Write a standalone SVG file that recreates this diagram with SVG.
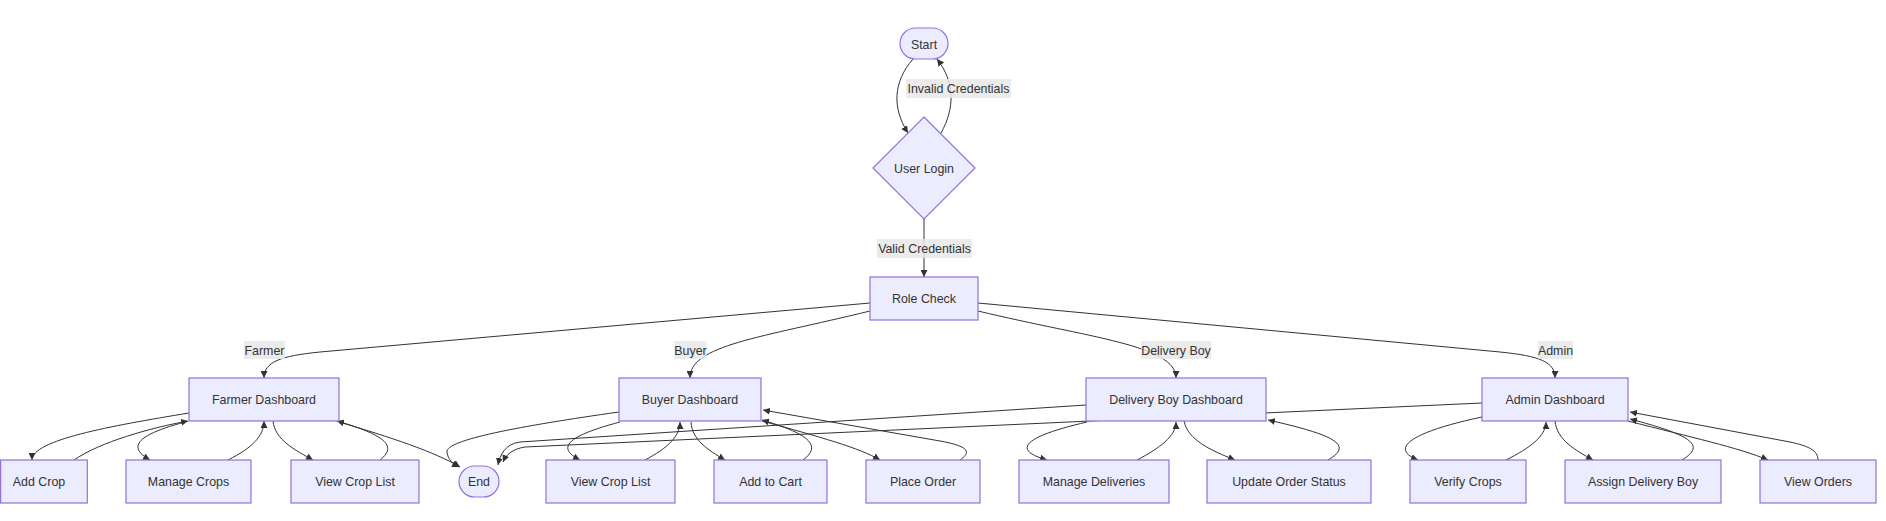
<svg xmlns="http://www.w3.org/2000/svg" width="1886" height="521" viewBox="0 0 1886 521">
<style>
.node rect,.node polygon{fill:#ECECFF;stroke:#9370DB;stroke-width:1.2}
text{font-family:"Liberation Sans",Arial,sans-serif;font-size:12.4px;fill:#333;text-anchor:middle}
.edge path{fill:none;stroke:#333;stroke-width:1}
.lbl rect{fill:#e8e8e8;opacity:0.85}
</style>
<defs>
<marker id="arr" viewBox="0 0 10 10" refX="10" refY="5" markerWidth="7" markerHeight="7" markerUnits="userSpaceOnUse" orient="auto">
<path d="M0,0 L10,5 L0,10 z" fill="#333"/>
</marker>
</defs>
<rect width="1886" height="521" fill="#fff"/>
<g id="edges" class="edge">
<path marker-end="url(#arr)" d="M913,59 C893,82 892,108 908,133"/>
<path marker-end="url(#arr)" d="M941,133 C955,108 955,82 937,59"/>
<path marker-end="url(#arr)" d="M924,219 L924,277"/>
<path marker-end="url(#arr)" d="M870,303 L320,352 C280,356 264,362 264,378"/>
<path marker-end="url(#arr)" d="M870,311 C760,338 690,345 690,378"/>
<path marker-end="url(#arr)" d="M978,311 C1090,338 1176,345 1176,378"/>
<path marker-end="url(#arr)" d="M978,303 L1500,352 C1540,356 1555,362 1555,378"/>
<path marker-end="url(#arr)" d="M189,413 C110,426 32,440 32,460"/>
<path marker-end="url(#arr)" d="M74,460 C100,442 150,428 188,421"/>
<path marker-end="url(#arr)" d="M185,422 C140,434 125,446 150,460"/>
<path marker-end="url(#arr)" d="M228,460 C252,448 264,436 264,421"/>
<path marker-end="url(#arr)" d="M273,421 C275,440 295,450 313,460"/>
<path marker-end="url(#arr)" d="M380,460 C398,446 385,435 337,421"/>
<path marker-end="url(#arr)" d="M339,422 C390,437 435,452 460,467"/>
<path marker-end="url(#arr)" d="M619,412 C520,426 445,440 447,452 C448,460 453,464 459,467"/>
<path marker-end="url(#arr)" d="M1086,405 L520,442 C505,444 500,455 498,465"/>
<path marker-end="url(#arr)" d="M1482,403 L525,447 C512,449 506,455 503,462"/>
<path marker-end="url(#arr)" d="M620,422 C575,434 552,446 580,460"/>
<path marker-end="url(#arr)" d="M645,460 C668,448 680,436 680,422"/>
<path marker-end="url(#arr)" d="M691,422 C692,440 708,450 725,460"/>
<path marker-end="url(#arr)" d="M803,460 C822,446 810,434 762,420"/>
<path marker-end="url(#arr)" d="M762,421 C820,437 860,448 880,460"/>
<path marker-end="url(#arr)" d="M960,460 C975,450 962,445 940,441 L763,410"/>
<path marker-end="url(#arr)" d="M1087,422 C1035,434 1005,448 1047,460"/>
<path marker-end="url(#arr)" d="M1137,460 C1160,448 1176,436 1176,422"/>
<path marker-end="url(#arr)" d="M1184,421 C1188,440 1210,450 1235,460"/>
<path marker-end="url(#arr)" d="M1328,460 C1352,446 1340,436 1268,420"/>
<path marker-end="url(#arr)" d="M1482,417 C1420,430 1385,447 1418,460"/>
<path marker-end="url(#arr)" d="M1506,460 C1530,448 1546,436 1546,422"/>
<path marker-end="url(#arr)" d="M1555,421 C1557,440 1575,450 1593,460"/>
<path marker-end="url(#arr)" d="M1682,460 C1705,446 1695,436 1630,419"/>
<path marker-end="url(#arr)" d="M1628,421 C1690,437 1740,448 1768,460"/>
<path marker-end="url(#arr)" d="M1818,460 C1818,450 1808,446 1790,442 L1630,412"/>
</g>
<g id="edge-labels" class="lbl">
<rect x="906" y="79" width="105" height="19"/><text x="958.5" y="93">Invalid Credentials</text>
<rect x="877" y="239" width="95" height="19"/><text x="924.5" y="253">Valid Credentials</text>
<rect x="244" y="341" width="41" height="18"/><text x="264.5" y="354.5">Farmer</text>
<rect x="674.5" y="341" width="32" height="18"/><text x="690.5" y="354.5">Buyer</text>
<rect x="1141" y="341" width="70" height="18"/><text x="1176" y="354.5">Delivery Boy</text>
<rect x="1538" y="341" width="35" height="18"/><text x="1555.5" y="354.5">Admin</text>
</g>
<g id="start" class="node"><rect x="900" y="28" width="48" height="31" rx="15.5"/><text x="924" y="48.5">Start</text></g>
<g id="login" class="node"><polygon points="924,117 975,168 924,219 873,168"/><text x="924" y="172.5">User Login</text></g>
<g id="rolecheck" class="node"><rect x="870" y="277" width="108" height="43"/><text x="924" y="303">Role Check</text></g>
<g id="farmer" class="node"><rect x="189" y="378" width="150" height="43"/><text x="264" y="404">Farmer Dashboard</text></g>
<g id="buyer" class="node"><rect x="619" y="378" width="142" height="43"/><text x="690" y="404">Buyer Dashboard</text></g>
<g id="delivery" class="node"><rect x="1086" y="378" width="180" height="43"/><text x="1176" y="404">Delivery Boy Dashboard</text></g>
<g id="admin" class="node"><rect x="1482" y="378" width="146" height="43"/><text x="1555" y="404">Admin Dashboard</text></g>
<g id="addcrop" class="node"><rect x="0.6" y="460" width="86.7" height="43"/><text x="39" y="486">Add Crop</text></g>
<g id="managecrops" class="node"><rect x="126" y="460" width="125" height="43"/><text x="188.5" y="486">Manage Crops</text></g>
<g id="viewcroplistf" class="node"><rect x="291" y="460" width="128" height="43"/><text x="355" y="486">View Crop List</text></g>
<g id="end" class="node"><rect x="459" y="466" width="40" height="31" rx="15.5"/><text x="479" y="486">End</text></g>
<g id="viewcroplistb" class="node"><rect x="546" y="460" width="129" height="43"/><text x="610.5" y="486">View Crop List</text></g>
<g id="addtocart" class="node"><rect x="714" y="460" width="113" height="43"/><text x="770.5" y="486">Add to Cart</text></g>
<g id="placeorder" class="node"><rect x="866" y="460" width="114" height="43"/><text x="923" y="486">Place Order</text></g>
<g id="managedeliveries" class="node"><rect x="1019" y="460" width="150" height="43"/><text x="1094" y="486">Manage Deliveries</text></g>
<g id="updateorder" class="node"><rect x="1207" y="460" width="164" height="43"/><text x="1289" y="486">Update Order Status</text></g>
<g id="verifycrops" class="node"><rect x="1410" y="460" width="116" height="43"/><text x="1468" y="486">Verify Crops</text></g>
<g id="assign" class="node"><rect x="1565" y="460" width="156" height="43"/><text x="1643" y="486">Assign Delivery Boy</text></g>
<g id="vieworders" class="node"><rect x="1760" y="460" width="116" height="43"/><text x="1818" y="486">View Orders</text></g>
</svg>
